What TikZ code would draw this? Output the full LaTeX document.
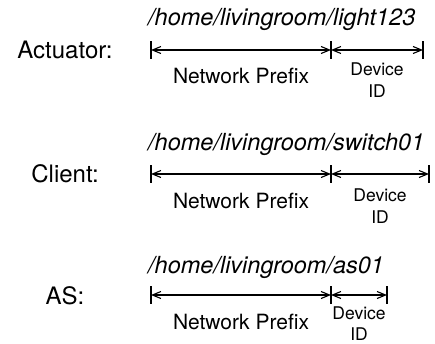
\documentclass[tikz,border=0pt]{standalone}
\usepackage{fontspec}
\setmainfont{TeX Gyre Heros}
\usetikzlibrary{arrows.meta}
\begin{document}
\begin{tikzpicture}[x=1pt,y=-1pt,
  dimline/.style={line width=1.1pt,
    {Straight Barb[length=8.5pt,width=7pt]}-{Straight Barb[length=8.5pt,width=7pt]}},
  tickbar/.style={line width=1.1pt},
  rowlabel/.style={anchor=base, inner sep=0pt, font=\fontsize{24}{28}\selectfont},
  pathtext/.style={anchor=base west, inner sep=0pt, font=\fontsize{23.5}{28}\selectfont\itshape},
  prefixtext/.style={anchor=base, inner sep=0pt, font=\fontsize{21}{25}\selectfont},
  devidtext/.style={anchor=base, inner sep=0pt, font=\fontsize{17.5}{21}\selectfont},
]
\useasboundingbox (0,0) rectangle (435,343);

% ---------- Actuator ----------
\coordinate (aL) at (151,50);
\coordinate (aM) at (331,50);
\coordinate (aR) at (423,50);
\node[rowlabel] (alab) at (65,58.5) {Actuator:};
\node[pathtext] (apath) at (148,25) {/home/livingroom/light123};
\foreach \p in {aL,aM,aR} \draw[tickbar] ([yshift=9pt]\p) -- ([yshift=-9pt]\p);
\draw[dimline] (aL) -- (aM);
\draw[dimline] (aM) -- (aR);
\node[prefixtext] (apre) at (241,83.3) {Network Prefix};
\node[devidtext] (adev) at (377,75) {Device};
\node[devidtext] (aid) at (377,97.5) {ID};

% ---------- Client ----------
\coordinate (cL) at (151,174);
\coordinate (cM) at (331,174);
\coordinate (cR) at (429,174);
\node[rowlabel] (clab) at (65,182.5) {Client:};
\node[pathtext] (cpath) at (148,150.5) {/home/livingroom/switch01};
\foreach \p in {cL,cM,cR} \draw[tickbar] ([yshift=9pt]\p) -- ([yshift=-9pt]\p);
\draw[dimline] (cL) -- (cM);
\draw[dimline] (cM) -- (cR);
\node[prefixtext] (cpre) at (241,208) {Network Prefix};
\node[devidtext] (cdev) at (380,201) {Device};
\node[devidtext] (cid) at (380,223) {ID};

% ---------- AS ----------
\coordinate (sL) at (151,295);
\coordinate (sM) at (331,295);
\coordinate (sR) at (387,295);
\node[rowlabel] (slab) at (65,304) {AS:};
\node[pathtext] (spath) at (148,273.3) {/home/livingroom/as01};
\foreach \p in {sL,sM,sR} \draw[tickbar] ([yshift=9pt]\p) -- ([yshift=-9pt]\p);
\draw[dimline] (sL) -- (sM);
\draw[dimline] (sM) -- (sR);
\node[prefixtext] (spre) at (241,329.3) {Network Prefix};
\node[devidtext] (sdev) at (359,319.5) {Device};
\node[devidtext] (sid) at (359,340.5) {ID};
\end{tikzpicture}
\end{document}
